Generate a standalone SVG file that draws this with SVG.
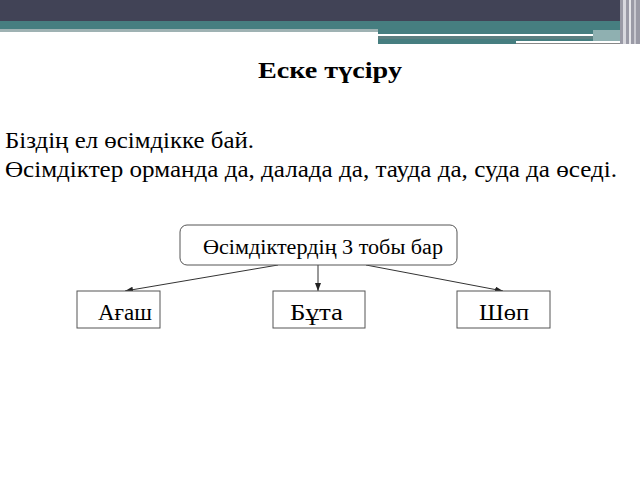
<svg xmlns="http://www.w3.org/2000/svg" width="640" height="480" viewBox="0 0 640 480">
<style>
.t{font-family:"Liberation Serif",serif;fill:#000}
.box{fill:#fff;stroke:#555;stroke-width:1}
.con{stroke:#333;stroke-width:1;fill:none;marker-end:url(#ah)}
</style>
<defs>
<marker id="ah" viewBox="0 0 8 6" refX="8" refY="3" markerWidth="8" markerHeight="6" markerUnits="userSpaceOnUse" orient="auto">
<path d="M0,0 L8,3 L0,6 Z" fill="#222"/>
</marker>
</defs>
<rect width="640" height="480" fill="#fff"/>
<g id="header">
<rect x="0" y="0" width="640" height="21" fill="#414356"/>
<rect x="0" y="21" width="640" height="9" fill="#467e80"/>
<rect x="0" y="29" width="378" height="3" fill="#9fb2b3"/>
<rect x="378" y="30" width="250" height="14" fill="#467e80"/>
<rect x="378" y="34" width="215" height="2" fill="#ffffff"/>
<rect x="378" y="36" width="215" height="3" fill="#5c7f81"/>
<rect x="593" y="30" width="30" height="12" fill="#8fb0b1"/>
<rect x="516" y="41" width="112" height="2" fill="#ffffff"/>
<rect x="516" y="43" width="112" height="1" fill="#888"/>
<rect x="620" y="0" width="20" height="44" fill="#9a9aa6"/>
<rect x="623" y="0" width="3" height="44" fill="#d8d8de"/>
<rect x="629" y="0" width="2" height="44" fill="#e6e6ea"/>
<rect x="634" y="0" width="2" height="44" fill="#c8c8d0"/>
</g>
<text class="t" x="258" y="78" font-size="23" font-weight="bold" textLength="144" lengthAdjust="spacingAndGlyphs">Еске түсіру</text>
<text class="t" x="5" y="148" font-size="23" textLength="249" lengthAdjust="spacingAndGlyphs">Біздің ел өсімдікке бай.</text>
<text class="t" x="5" y="177" font-size="23" textLength="612" lengthAdjust="spacingAndGlyphs">Өсімдіктер орманда да, далада да, тауда да, суда да өседі.</text>
<g id="connectors">
<line class="con" x1="278" y1="265" x2="125" y2="291"/>
<line class="con" x1="318" y1="265" x2="318" y2="291"/>
<line class="con" x1="366" y1="265" x2="503" y2="291"/>
</g>
<g id="root">
<rect class="box" x="180" y="225" width="277" height="40" rx="7"/>
<text class="t" x="203" y="254" font-size="20" textLength="240" lengthAdjust="spacingAndGlyphs">Өсімдіктердің 3 тобы бар</text>
</g>
<g id="agash">
<rect class="box" x="77" y="291" width="83" height="37"/>
<text class="t" x="98" y="320" font-size="23" textLength="54" lengthAdjust="spacingAndGlyphs">Ағаш</text>
</g>
<g id="buta">
<rect class="box" x="273" y="291" width="92" height="37"/>
<text class="t" x="290" y="320" font-size="23" textLength="53" lengthAdjust="spacingAndGlyphs">Бұта</text>
</g>
<g id="shop">
<rect class="box" x="457" y="291" width="93" height="37"/>
<text class="t" x="479" y="320" font-size="23" textLength="50" lengthAdjust="spacingAndGlyphs">Шөп</text>
</g>
</svg>
